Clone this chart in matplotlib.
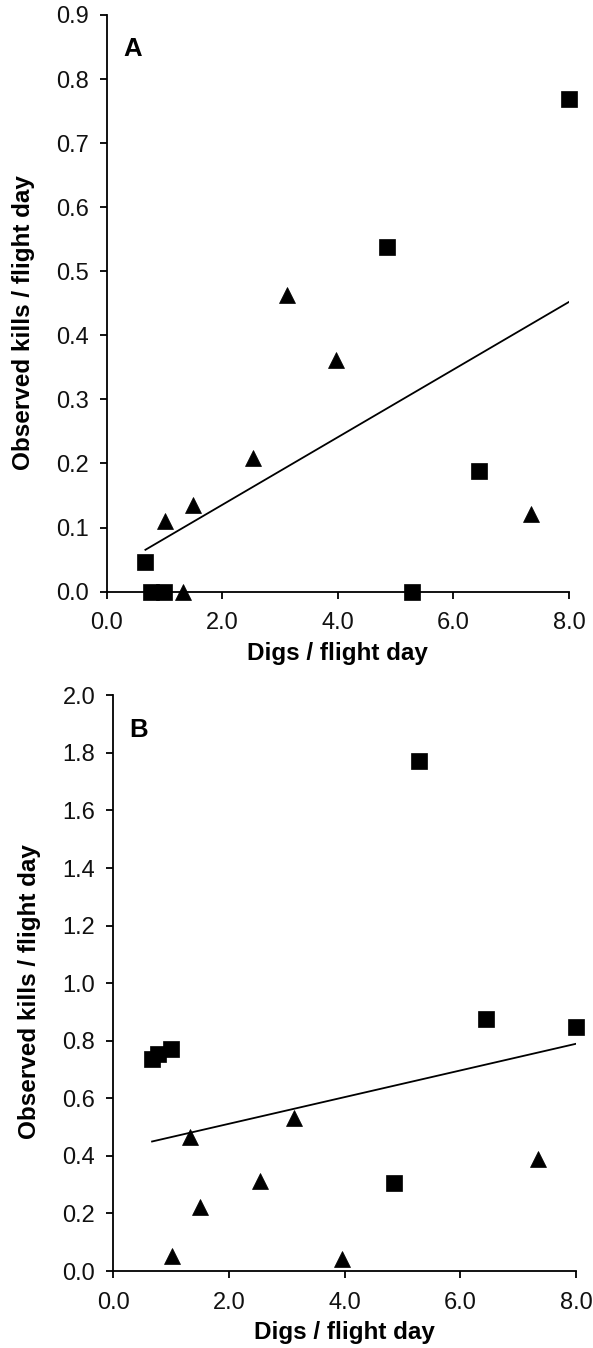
import matplotlib
matplotlib.use("Agg")
import matplotlib.pyplot as plt
import numpy as np
from matplotlib import rcParams

rcParams['font.family'] = ['Liberation Sans', 'DejaVu Sans']
rcParams['axes.linewidth'] = 1.3
rcParams['xtick.major.width'] = 1.3
rcParams['ytick.major.width'] = 1.3
rcParams['xtick.major.size'] = 5
rcParams['ytick.major.size'] = 5

# digs per flight day (same sites in both panels)
sq_digs = [0.67, 0.77, 1.00, 4.85, 5.28, 6.44, 8.00]
tri_digs = [1.01, 1.32, 1.50, 2.53, 3.12, 3.96, 7.35]

# panel A: observed kills / flight day
a_sq_kills = [0.047, 0.0, 0.0, 0.538, 0.0, 0.188, 0.769]
a_tri_kills = [0.110, 0.0, 0.135, 0.209, 0.463, 0.362, 0.121]

# panel B
b_sq_kills = [0.735, 0.753, 0.770, 0.307, 1.772, 0.876, 0.849]
b_tri_kills = [0.052, 0.467, 0.223, 0.313, 0.533, 0.041, 0.388]

x_ticks = [0, 2, 4, 6, 8]
a_yticks = np.round(np.arange(0, 0.91, 0.1), 1)
b_yticks = np.round(np.arange(0, 2.01, 0.2), 1)

fig = plt.figure(figsize=(5.93, 13.48), dpi=100)
axA = fig.add_axes([0.1799, 0.5611, 0.7796, 0.4278])
axB = fig.add_axes([0.1911, 0.0571, 0.7803, 0.4271])


def panel(ax, sq_y, tri_y, yticks, ymax, letter, lab_y):
    ax.plot(sq_digs, sq_y, 's', color='black', ms=11.5, mew=0.5,
            clip_on=False, zorder=4)
    ax.plot(tri_digs, tri_y, '^', color='black', ms=12, mew=0.5,
            clip_on=False, zorder=4)

    # linear fit through all points
    xs = np.array(sq_digs + tri_digs)
    ys = np.array(sq_y + tri_y)
    k, b = np.polyfit(xs, ys, 1)
    xl = np.array([xs.min(), xs.max()])
    ax.plot(xl, k * xl + b, color='black', lw=1.3, zorder=3)

    ax.set_xlim(0, 8)
    ax.set_ylim(0, ymax)
    ax.set_xticks(x_ticks)
    ax.set_xticklabels(['%.1f' % v for v in x_ticks])
    ax.set_yticks(yticks)
    ax.set_yticklabels(['%.1f' % v for v in yticks])
    ax.tick_params(axis='both', direction='out', labelsize=17,
                   labelcolor='#111111')
    ax.tick_params(axis='x', pad=10)
    ax.tick_params(axis='y', pad=8)
    ax.spines['top'].set_visible(False)
    ax.spines['right'].set_visible(False)

    ax.set_xlabel('Digs / flight day', fontsize=17.5, fontweight='bold')
    ax.xaxis.set_label_coords(0.5, -0.107)
    ax.xaxis.label.set_va('center')
    ax.set_ylabel('Observed kills / flight day', fontsize=17.5, fontweight='bold')
    ax.yaxis.set_label_coords(-0.181, lab_y)
    ax.yaxis.label.set_va('center')

    ax.text(0.035, 0.928, letter, transform=ax.transAxes, fontsize=18.5,
            fontweight='bold', ha='left', va='baseline')


panel(axA, a_sq_kills, a_tri_kills, a_yticks, 0.9, 'A', 0.466)
panel(axB, b_sq_kills, b_tri_kills, b_yticks, 2.0, 'B', 0.485)

fig.savefig('out.png', dpi=100)
